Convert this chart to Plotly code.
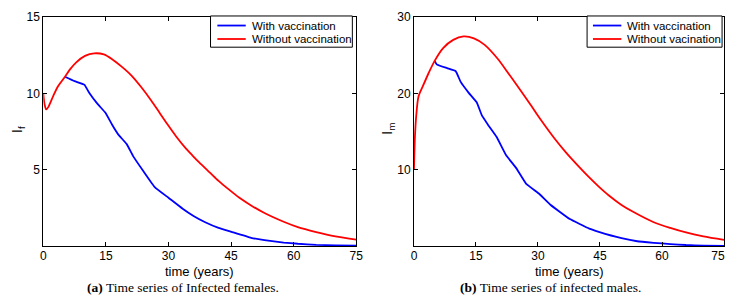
import plotly.graph_objects as go

# The page adds an 8px body margin, so the figure is 16px smaller than the
# 746x303 window and every position below is given in window pixels.
W, H = 730, 287
OFF = 8

# ---------------- data ----------------
# (a) Infected females
tf_without = [0, 0.3, 0.7, 1.2, 2.4, 3.5, 5.2, 6.5, 7.9, 10, 12.2, 14.5, 16.5, 19, 21.2, 23.5,
              25.9, 27.9, 29.8, 31.8, 34, 35.7, 37.3, 40, 42, 44.3, 47, 49.8, 53, 57.6, 61,
              65.4, 70, 75]
If_without = [10.0, 9.3, 8.95, 9.1, 9.84, 10.45, 11.09, 11.6, 12.03, 12.45, 12.62, 12.55, 12.24,
              11.7, 11.15, 10.4, 9.52, 8.72, 7.96, 7.2, 6.45, 5.95, 5.5, 4.8, 4.28, 3.75, 3.17,
              2.67, 2.17, 1.6, 1.25, 0.93, 0.65, 0.43]
tf_with = [5.2, 7.5, 9.84, 11.0, 13.0, 14.9, 16.5, 18.0, 20.0, 21.6, 24.0, 26.7, 30.0, 33.4,
           36.0, 38.8, 42.0, 45.1, 49.8, 53, 57.6, 61, 65.4, 70, 75]
If_with = [11.09, 10.8, 10.57, 10.04, 9.31, 8.73, 7.95, 7.3, 6.68, 5.86, 4.9, 3.87, 3.17, 2.45,
           1.98, 1.57, 1.2, 0.94, 0.55, 0.4, 0.24, 0.16, 0.09, 0.05, 0.03]

# (b) Infected males
tm_without = [0, 0.24, 0.6, 1.1, 2.2, 3.5, 5.0, 7.0, 9.5, 12.0, 14.5, 17.1, 20.3, 22.6, 25.5,
              28.2, 29.7, 31.8, 34, 36.8, 40, 42.4, 44.7, 47, 50.2, 53, 58.0, 62, 65.8, 70, 75]
Im_without = [10.0, 14.4, 17.4, 19.6, 21.0, 22.6, 24.25, 25.9, 27.0, 27.45, 27.2, 26.35, 24.5,
              22.8, 20.6, 18.5, 17.3, 15.7, 14.1, 12.25, 10.35, 9.0, 7.8, 6.7, 5.4, 4.5, 3.14,
              2.4, 1.8, 1.3, 0.84]
tm_with = [5.0, 5.5, 8.0, 10.1, 11.3, 13.2, 15.2, 16.4, 17.9, 20.0, 22.3, 24.7, 27.1, 30.2,
           33.0, 37.7, 42.4, 44.7, 50.2, 54, 58, 62, 65.8, 70, 75]
Im_with = [24.25, 23.8, 23.3, 22.9, 21.5, 20.1, 18.8, 17.15, 15.9, 14.3, 11.9, 10.25, 8.2, 6.9,
           5.43, 3.55, 2.3, 1.88, 1.05, 0.65, 0.45, 0.28, 0.16, 0.09, 0.05]

x_ticks = [0, 15, 30, 45, 60, 75]
x_ticktext = ["0", "15", "30", "45", "60", "75"]
x_ticktext_b = ["0", "15", "30", "45", "60", "75\u2002\u2002"]
yf_ticks = [5, 10, 15]
ym_ticks = [10, 20, 30]

legend_a = ["With vaccination", "Without vaccination"]
legend_b = ["With vaccination", "Without vacination"]

BLUE = "#0000FF"
RED = "#FF0000"
SANS = "Liberation Sans, Arial, sans-serif"
SERIF = "Liberation Serif, Times New Roman, serif"


def px_x(p):
    return (p - OFF) / W


def px_y(p):
    return (H - (p - OFF)) / H


fig = go.Figure()

fig.add_trace(go.Scatter(x=tf_with, y=If_with, mode="lines", name=legend_a[0],
                         line=dict(color=BLUE, width=1.8, shape="spline", smoothing=0.3),
                         xaxis="x", yaxis="y"))
fig.add_trace(go.Scatter(x=tf_without, y=If_without, mode="lines", name=legend_a[1],
                         line=dict(color=RED, width=1.8, shape="spline", smoothing=0.8),
                         xaxis="x", yaxis="y"))
fig.add_trace(go.Scatter(x=tm_with, y=Im_with, mode="lines", name=legend_b[0],
                         line=dict(color=BLUE, width=1.8, shape="spline", smoothing=0.3),
                         xaxis="x2", yaxis="y2"))
fig.add_trace(go.Scatter(x=tm_without, y=Im_without, mode="lines", name=legend_b[1],
                         line=dict(color=RED, width=1.8, shape="spline", smoothing=0.8),
                         xaxis="x2", yaxis="y2"))

axis_common = dict(showline=True, linecolor="black", linewidth=1, mirror="ticks",
                   ticks="inside", ticklen=4, tickcolor="black", showgrid=False,
                   zeroline=False, ticklabeloverflow="allow",
                   tickfont=dict(family=SANS, size=12, color="black"))

PLOT_TOP, PLOT_BOTTOM = 10, 245

fig.update_layout(
    width=W, height=H,
    margin=dict(l=0, r=0, t=0, b=0),
    paper_bgcolor="white", plot_bgcolor="white",
    showlegend=False,
    xaxis=dict(domain=[px_x(41), px_x(361)], range=[0, 75], tickvals=x_ticks,
               ticktext=x_ticktext, anchor="y", ticklabelstandoff=-2, **axis_common),
    yaxis=dict(domain=[px_y(PLOT_BOTTOM), px_y(PLOT_TOP)], range=[0, 15], tickvals=yf_ticks,
               anchor="x", **axis_common),
    xaxis2=dict(domain=[px_x(420), px_x(737)], range=[0, 75], tickvals=x_ticks,
                ticktext=x_ticktext_b, anchor="y2", ticklabelstandoff=-2, **axis_common),
    yaxis2=dict(domain=[px_y(PLOT_BOTTOM), px_y(PLOT_TOP)], range=[0, 30], tickvals=ym_ticks,
                anchor="x2", **axis_common),
)

# ---- legends drawn as boxes (one per panel) ----
shapes = []
annotations = []
for (bx0, bx1, lx0, lx1, tx, names) in [(212, 357, 219, 248, 252, legend_a),
                                          (597, 735, 603, 632, 636, legend_b)]:
    shapes.append(dict(type="rect", xref="paper", yref="paper",
                       x0=px_x(bx0), x1=px_x(bx1), y0=px_y(41), y1=px_y(9),
                       line=dict(color="black", width=1), fillcolor="white", layer="above"))
    for name, col, yy in [(names[0], BLUE, 18.8), (names[1], RED, 32.6)]:
        shapes.append(dict(type="line", xref="paper", yref="paper",
                           x0=px_x(lx0), x1=px_x(lx1), y0=px_y(yy), y1=px_y(yy),
                           line=dict(color=col, width=1.8), layer="above"))
        annotations.append(dict(text=name, x=px_x(tx), y=px_y(yy), xref="paper",
                                yref="paper", showarrow=False, xanchor="left",
                                yanchor="middle",
                                font=dict(family=SANS, size=11.5, color="black")))

annotations += [
    dict(text="time (years)", x=px_x(201), y=px_y(271), xref="paper", yref="paper",
         showarrow=False, xanchor="center", yanchor="middle", borderpad=0,
         font=dict(family=SANS, size=13, color="black")),
    dict(text="time (years)", x=px_x(579), y=px_y(271), xref="paper", yref="paper",
         showarrow=False, xanchor="center", yanchor="middle", borderpad=0,
         font=dict(family=SANS, size=13, color="black")),
    dict(text="I<sub>f</sub>", x=px_x(15), y=px_y(125), xref="paper", yref="paper",
         showarrow=False, xanchor="center", yanchor="middle", textangle=-90,
         font=dict(family=SANS, size=14, color="black")),
    dict(text="I<sub>m</sub>", x=px_x(394), y=px_y(125), xref="paper", yref="paper",
         showarrow=False, xanchor="center", yanchor="middle", textangle=-90,
         font=dict(family=SANS, size=14, color="black")),
    dict(text="<b>(a)</b> Time series of Infected females.", x=px_x(184), y=px_y(287),
         xref="paper", yref="paper", showarrow=False, xanchor="center", yanchor="middle",
         borderpad=0, font=dict(family=SERIF, size=13.5, color="black")),
    dict(text="<b>(b)</b> Time series of infected males.", x=px_x(560), y=px_y(287),
         xref="paper", yref="paper", showarrow=False, xanchor="center", yanchor="middle",
         borderpad=0, font=dict(family=SERIF, size=13.5, color="black")),
]
fig.update_layout(shapes=shapes, annotations=annotations)

fig.write_html("out.html", config={"displayModeBar": False})
